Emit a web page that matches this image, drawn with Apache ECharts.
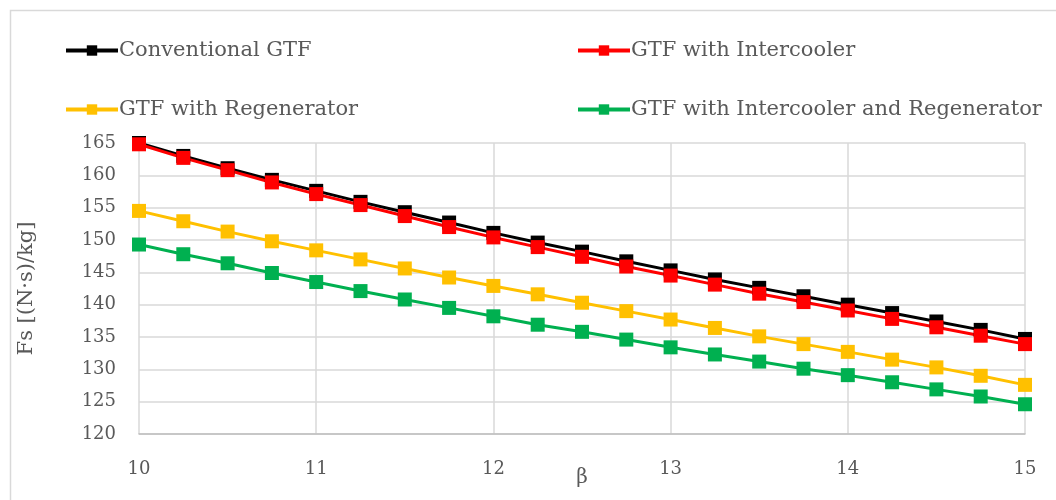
<!DOCTYPE html>
<html><head><meta charset="utf-8">
<script src="https://cdn.jsdelivr.net/npm/echarts@6/dist/echarts.min.js"></script>
<style>html,body{margin:0;padding:0;background:#fff}#c{width:1056px;height:500px}</style>
</head><body><div id="c"></div>
<script>
const beta = [10,10.25,10.5,10.75,11,11.25,11.5,11.75,12,12.25,12.5,12.75,13,13.25,13.5,13.75,14,14.25,14.5,14.75,15];
const conventional = [165.0,163.0,161.1,159.3,157.6,155.9,154.3,152.7,151.1,149.6,148.2,146.7,145.3,143.9,142.6,141.3,140.0,138.7,137.4,136.1,134.7];
const intercooler = [164.8,162.7,160.8,158.9,157.1,155.4,153.7,152.0,150.4,148.9,147.4,145.9,144.5,143.1,141.7,140.4,139.1,137.8,136.5,135.2,133.9];
const regenerator = [154.5,152.9,151.3,149.8,148.4,147.0,145.6,144.2,142.9,141.6,140.3,139.0,137.7,136.4,135.1,133.9,132.7,131.5,130.3,129.0,127.6];
const interRegen = [149.3,147.8,146.4,144.9,143.5,142.1,140.8,139.5,138.2,136.9,135.8,134.6,133.4,132.3,131.2,130.1,129.1,128.0,126.9,125.8,124.6];
const seriesNames = ['Conventional GTF','GTF with Intercooler','GTF with Regenerator','GTF with Intercooler and Regenerator'];
const colors = ['#000000','#ff0000','#ffc000','#00b050'];
const xTitle = 'β';
const yTitle = 'Fs [(N·s)/kg]';

const FONT = 'DejaVu Serif';
const TXT = '#595959';
const pair = (arr) => beta.map((b,i)=>[b,arr[i]]);
const datasets = [conventional, intercooler, regenerator, interRegen];
// draw order: green, yellow, black, red (red over black)
const order = [3,2,0,1];
const series = order.map(k => ({
  name: seriesNames[k], type:'line', data: pair(datasets[k]),
  symbol:'rect', symbolSize:14, showSymbol:true,
  lineStyle:{color:colors[k], width:3}, itemStyle:{color:colors[k]},
  animation:false, z: 2
}));
const legPos = [[64,40],[576,40],[64,99],[576,99]];
const legends = seriesNames.map((n,i)=>({
  data:[n], left:legPos[i][0], top:legPos[i][1], padding:0, itemWidth:52, itemHeight:13, itemGap:0,
  lineStyle:{width:4},
  textStyle:{fontFamily:FONT, fontSize:21, color:TXT, padding:[0,0,0,-4]}, selectedMode:false
}));
const chart = echarts.init(document.getElementById('c'), null, {renderer:'canvas'});
chart.setOption({
  animation:false,
  backgroundColor:'#fff',
  color: order.map(k=>colors[k]),
  graphic:[{type:'rect', shape:{x:10.5,y:10.5,width:1100,height:600}, style:{fill:null, stroke:'#d9d9d9', lineWidth:1.5}, silent:true}],
  legend: legends,
  grid:{left:139, right:31, top:143, bottom:66, containLabel:false, outerBoundsMode:'none'},
  xAxis:{type:'value', min:10, max:15, interval:1,
    name:xTitle, nameLocation:'middle', nameGap:34, nameMoveOverlap:false,
    nameTextStyle:{fontFamily:FONT, fontSize:20, color:TXT},
    axisLine:{show:true, lineStyle:{color:'#bfbfbf', width:1.5}}, axisTick:{show:false},
    axisLabel:{fontFamily:FONT, fontSize:18, color:TXT, margin:26},
    splitLine:{show:true, lineStyle:{color:'#d9d9d9', width:1.5}}},
  yAxis:{type:'value', min:120, max:165, interval:5,
    name:yTitle, nameLocation:'middle', nameGap:102, nameRotate:90, nameMoveOverlap:false,
    nameTextStyle:{fontFamily:FONT, fontSize:21, color:TXT},
    axisLine:{show:false}, axisTick:{show:false},
    axisLabel:{fontFamily:FONT, fontSize:18, color:TXT, margin:23},
    splitLine:{show:true, lineStyle:{color:'#d9d9d9', width:1.5}}},
  series: series
});
</script></body></html>
